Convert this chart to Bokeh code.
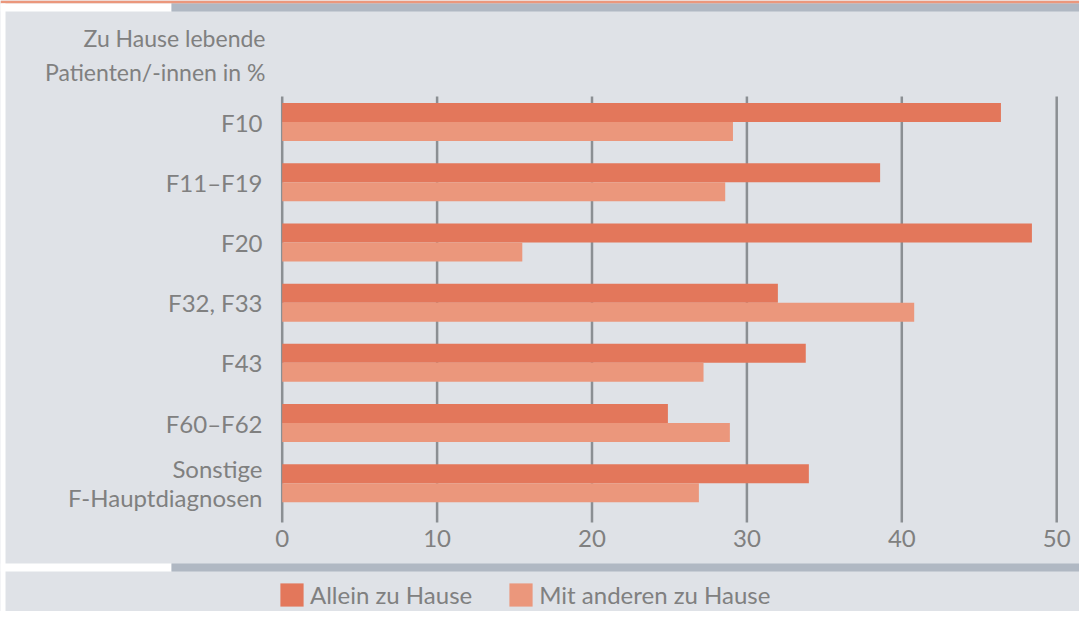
from bokeh.plotting import figure
from bokeh.models import (Range1d, FixedTicker, BoxAnnotation, Label,
                          ColumnDataSource)
from bokeh.embed import file_html
from bokeh.resources import INLINE

# ---------------- data ----------------
categories = ["F10", "F11–F19", "F20", "F32, F33", "F43", "F60–F62",
              "Sonstige\nF-Hauptdiagnosen"]
allein = [46.4, 38.6, 48.4, 32.0, 33.8, 24.9, 34.0]
mit_anderen = [29.1, 28.6, 15.5, 40.8, 27.2, 28.9, 26.9]
series = ["Allein zu Hause", "Mit anderen zu Hause"]
x_ticks = [0, 10, 20, 30, 40, 50]
title_lines = ["Zu Hause lebende", "Patienten/-innen in %"]

# ---------------- style ----------------
PANEL = "#dfe2e7"
STRIP = "#b0b8c3"
DARK = "#e3775b"
LIGHT = "#eb977c"
TEXT = "#808080"
GRID = "#8b8f93"
FONT = "Lato"

W, H = 1079, 611
# pixel <-> data mapping (frame covers whole canvas)
X0, XS = 281.7, 15.49          # px of x=0, px per unit
Y0, YS = 121.6, 60.18          # px of first category centre, px per category


def xd(px):
    return (px - X0) / XS


def yd(py):
    return (py - Y0) / YS


idx = list(range(len(categories)))
bar_h = 19 / YS
src = ColumnDataSource(dict(
    y_a=[i - bar_h / 2 for i in idx],
    y_m=[i + bar_h / 2 for i in idx],
    allein=allein,
    mit=mit_anderen,
))

p = figure(width=W, height=H, output_backend="svg", toolbar_location=None,
           title=None,
           x_range=Range1d(xd(0), xd(W)), y_range=Range1d(yd(H), yd(0)),
           min_border=0)
p.background_fill_color = PANEL
p.border_fill_color = PANEL
p.outline_line_color = None
p.xgrid.visible = False
p.ygrid.visible = False

# decorative strips (canvas px)
for (l, r, t, b, c) in [(0, W, 0, 3, LIGHT),
                        (0, 171, 3, 11, "white"), (171, W, 3, 11, STRIP),
                        (0, 5, 3, H, "white"),
                        (0, 171, 563, 571, "white"), (171, W, 563, 571, STRIP)]:
    p.add_layout(BoxAnnotation(left=l, right=r, top=t, bottom=b,
                               left_units="canvas", right_units="canvas",
                               top_units="canvas", bottom_units="canvas",
                               fill_color=c, fill_alpha=1, line_color=None,
                               level="underlay"))

# grid lines (limited to the chart area)
p.segment(x0=x_ticks, x1=x_ticks, y0=[yd(96)] * len(x_ticks),
          y1=[yd(522)] * len(x_ticks), line_color=GRID, line_width=2.5)

p.hbar(y="y_a", left=0, right="allein", height=bar_h, source=src,
       fill_color=DARK, line_color=None, legend_label=series[0])
p.hbar(y="y_m", left=0, right="mit", height=bar_h, source=src,
       fill_color=LIGHT, line_color=None, legend_label=series[1])

# x axis (fixed inside the frame)
xa = p.xaxis[0]
xa.fixed_location = yd(522)
xa.ticker = FixedTicker(ticks=x_ticks)
xa.axis_line_color = None
xa.major_tick_line_color = None
xa.minor_tick_line_color = None
xa.major_tick_out = 0
xa.major_tick_in = 0
xa.major_label_standoff = 7
xa.major_label_text_font = FONT
xa.major_label_text_font_size = "24px"
xa.major_label_text_color = TEXT

# y axis (fixed inside the frame)
ya = p.yaxis[0]
ya.fixed_location = xd(272)
ya.ticker = FixedTicker(ticks=idx)
ya.major_label_overrides = {i: c for i, c in zip(idx, categories)}
ya.axis_line_color = None
ya.major_tick_line_color = None
ya.minor_tick_line_color = None
ya.major_tick_out = 0
ya.major_tick_in = 0
ya.major_label_standoff = 10
ya.major_label_text_font = FONT
ya.major_label_text_font_size = "24px"
ya.major_label_text_line_height = 1.0
ya.major_label_text_color = TEXT
ya.major_label_text_align = "right"

# title
for txt, yb in zip(title_lines, [37, 71]):
    p.add_layout(Label(x=265, y=yb, x_units="canvas", y_units="canvas",
                       text=txt, text_align="right",
                       text_baseline="alphabetic", text_font=FONT,
                       text_font_size="23px", text_color=TEXT))

# legend
lg = p.legend[0]
lg.orientation = "horizontal"
lg.location = (277, 2)
lg.padding = 0
lg.margin = 0
lg.spacing = 34
lg.border_line_color = None
lg.background_fill_alpha = 0
lg.glyph_width = 29
lg.glyph_height = 29
lg.label_height = 29
lg.label_standoff = 4
lg.label_text_font = FONT
lg.label_text_font_size = "24px"
lg.label_text_color = TEXT

open("out.html", "w").write(file_html(p, INLINE))
